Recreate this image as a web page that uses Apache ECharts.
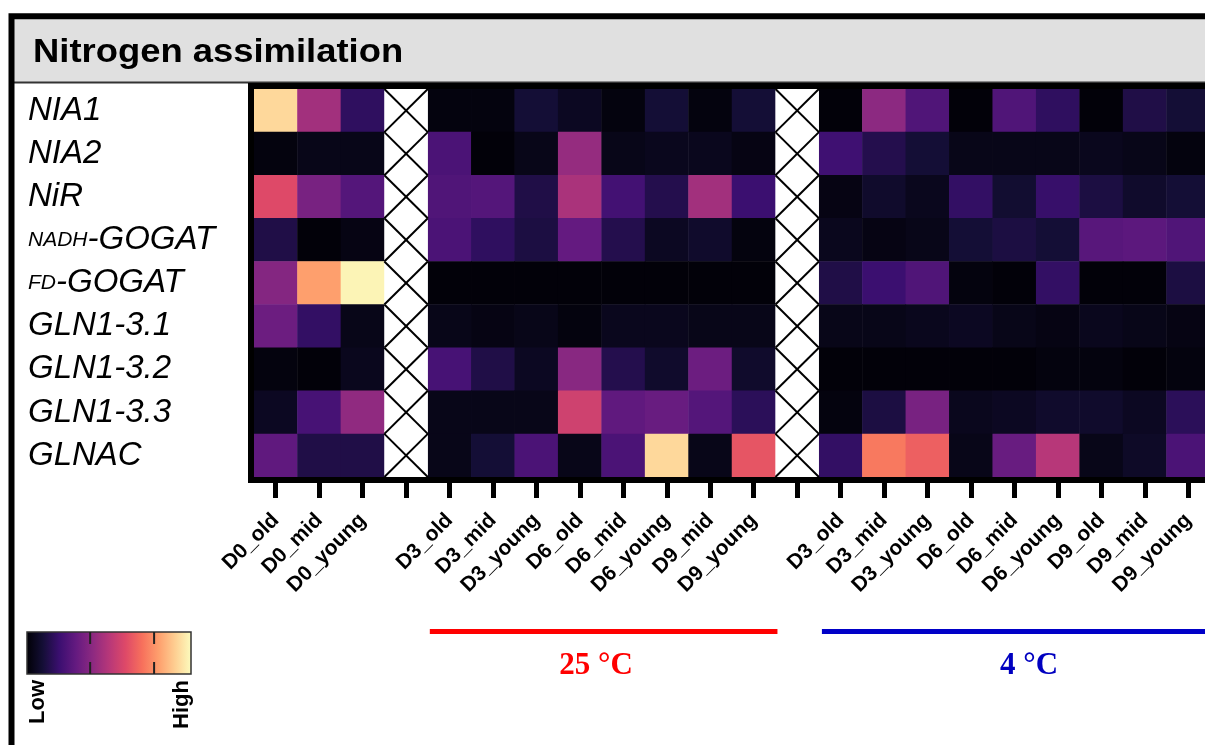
<!DOCTYPE html>
<html>
<head>
<meta charset="utf-8">
<title>Nitrogen assimilation</title>
<script src="https://cdn.jsdelivr.net/npm/echarts@6/dist/echarts.min.js"></script>
<style>
  html, body { margin: 0; padding: 0; background: #fff; overflow: hidden; }
  /* the figure runs past the right edge of the window, as in the source */
  #chart { width: 1260px; height: 745px; }
</style>
</head>
<body>
<div id="chart"></div>
<script>
// Rows (genes) and columns (samples)
const genes = ['NIA1', 'NIA2', 'NiR', 'NADH-GOGAT', 'FD-GOGAT', 'GLN1-3.1', 'GLN1-3.2', 'GLN1-3.3', 'GLNAC'];
const samplesD0 = ['D0_old', 'D0_mid', 'D0_young'];
const samples25 = ['D3_old', 'D3_mid', 'D3_young', 'D6_old', 'D6_mid', 'D6_young', 'D9_mid', 'D9_young'];
const samples4 = ['D3_old', 'D3_mid', 'D3_young', 'D6_old', 'D6_mid', 'D6_young', 'D9_old', 'D9_mid', 'D9_young'];

// Relative expression (0 = low, 1 = high): D0 (3) | 25 °C (8) | 4 °C (9)
const nia1 = [0.92, 0.45, 0.17, 0.02, 0.02, 0.10, 0.06, 0.02, 0.10, 0.02, 0.10, 0.01, 0.40, 0.25, 0.01, 0.25, 0.17, 0.01, 0.13, 0.10];
const nia2 = [0.02, 0.04, 0.04, 0.24, 0.01, 0.04, 0.42, 0.04, 0.05, 0.05, 0.03, 0.21, 0.14, 0.10, 0.04, 0.04, 0.04, 0.05, 0.04, 0.02];
const nir = [0.60, 0.35, 0.26, 0.25, 0.26, 0.13, 0.47, 0.22, 0.14, 0.45, 0.20, 0.03, 0.08, 0.05, 0.18, 0.09, 0.19, 0.12, 0.08, 0.10];
const nadhGogat = [0.13, 0.01, 0.03, 0.24, 0.17, 0.12, 0.30, 0.14, 0.06, 0.08, 0.02, 0.05, 0.03, 0.04, 0.10, 0.12, 0.10, 0.27, 0.28, 0.25];
const fdGogat = [0.38, 0.80, 0.98, 0.01, 0.01, 0.01, 0.01, 0.01, 0.01, 0.01, 0.01, 0.13, 0.20, 0.25, 0.02, 0.01, 0.18, 0.01, 0.01, 0.12];
const gln131 = [0.32, 0.18, 0.04, 0.04, 0.03, 0.04, 0.02, 0.05, 0.05, 0.04, 0.04, 0.04, 0.04, 0.05, 0.06, 0.04, 0.03, 0.05, 0.04, 0.03];
const gln132 = [0.02, 0.01, 0.05, 0.23, 0.13, 0.06, 0.39, 0.14, 0.08, 0.32, 0.08, 0.01, 0.01, 0.01, 0.01, 0.01, 0.02, 0.02, 0.01, 0.02];
const gln133 = [0.06, 0.23, 0.41, 0.04, 0.04, 0.04, 0.56, 0.29, 0.31, 0.26, 0.16, 0.02, 0.12, 0.35, 0.05, 0.06, 0.08, 0.08, 0.06, 0.16];
const glnac = [0.29, 0.13, 0.13, 0.04, 0.10, 0.24, 0.04, 0.24, 0.92, 0.04, 0.63, 0.18, 0.72, 0.66, 0.04, 0.31, 0.50, 0.04, 0.07, 0.24];
const expression = [nia1, nia2, nir, nadhGogat, fdGogat, gln131, gln132, gln133, glnac];

// magma colour map
const magma = ['#000004', '#140e36', '#3b0f70', '#641a80', '#8c2981', '#b73779',
  '#de4968', '#f7705c', '#fe9f6d', '#fecf92', '#fcfdbf'];
const colorbarTicks = [0.385, 0.775];

// x axis: D0 | gap | 25 °C | gap | 4 °C
const columns = [...samplesD0, '', ...samples25, '', ...samples4];
const gapCols = [samplesD0.length, samplesD0.length + 1 + samples25.length];

function colOf(i) {
  if (i < samplesD0.length) return i;
  if (i < samplesD0.length + samples25.length) return i + 1;
  return i + 2;
}

const heatData = [];
expression.forEach((row, r) => {
  row.forEach((v, i) => heatData.push([colOf(i), r, v]));
});
const gapData = [];
gapCols.forEach((c) => genes.forEach((g, r) => gapData.push([c, r])));

// Layout
const grid = { left: 254, top: 89, width: 956, height: 388 };
const cellW = grid.width / columns.length;
const font = 'Liberation Sans, Arial, Helvetica, sans-serif';

// white cell crossed out (no sample)
function renderGap(params, api) {
  const c = api.coord([api.value(0), api.value(1)]);
  const s = api.size([1, 1]);
  const l = c[0] - s[0] / 2, t = c[1] - s[1] / 2, r = l + s[0], b = t + s[1];
  return {
    type: 'group',
    children: [
      { type: 'rect', shape: { x: l, y: t, width: s[0], height: s[1] }, style: { fill: '#fff' } },
      { type: 'line', shape: { x1: l, y1: t, x2: r, y2: b }, style: { stroke: '#000', lineWidth: 2 } },
      { type: 'line', shape: { x1: r, y1: t, x2: l, y2: b }, style: { stroke: '#000', lineWidth: 2 } },
    ],
  };
}

const barX = 27, barY = 632, barW = 164, barH = 42;
const redStart = grid.left + 4 * cellW + 2;
const redEnd = grid.left + 12 * cellW + 2;
const blueStart = grid.left + 13 * cellW + 3;

const graphics = [
  // header
  { type: 'rect', z: 0, shape: { x: 14, y: 19, width: 1400, height: 63 }, style: { fill: '#e0e0e0' } },
  { type: 'line', z: 1, shape: { x1: 14, y1: 82.5, x2: 1400, y2: 82.5 }, style: { stroke: '#333', lineWidth: 2 } },
  { type: 'rect', z: 2, shape: { x: 11.5, y: 16.3, width: 1400, height: 800 }, style: { fill: 'none', stroke: '#000', lineWidth: 6 } },
  {
    type: 'text', z: 3, x: 33, y: 53, scaleX: 1.12,
    style: { text: 'Nitrogen assimilation', fontSize: 32.5, fontWeight: 'bold', fontFamily: font, fill: '#000', align: 'left', verticalAlign: 'middle' },
  },
  // heatmap frame
  {
    type: 'rect', z: 100,
    shape: { x: grid.left - 3, y: grid.top - 3, width: grid.width + 6, height: grid.height + 6 },
    style: { fill: 'none', stroke: '#000', lineWidth: 6 },
  },
  // colour bar
  {
    type: 'rect', z: 5,
    shape: { x: barX, y: barY, width: barW, height: barH },
    style: {
      fill: new echarts.graphic.LinearGradient(0, 0, 1, 0,
        magma.map((c, i) => ({ offset: i / (magma.length - 1), color: c }))),
      stroke: '#333', lineWidth: 1.5,
    },
  },
  ...colorbarTicks.flatMap((f) => [
    { type: 'line', z: 6, shape: { x1: barX + f * barW, y1: barY, x2: barX + f * barW, y2: barY + 12 }, style: { stroke: '#222', lineWidth: 2 } },
    { type: 'line', z: 6, shape: { x1: barX + f * barW, y1: barY + barH - 12, x2: barX + f * barW, y2: barY + barH }, style: { stroke: '#222', lineWidth: 2 } },
  ]),
  {
    type: 'text', z: 6, x: 27, y: 680, rotation: Math.PI / 2,
    style: { text: 'Low', fontSize: 22, fontWeight: 'bold', fontFamily: font, fill: '#000', align: 'right', verticalAlign: 'top' },
  },
  {
    type: 'text', z: 6, x: 171, y: 680, rotation: Math.PI / 2,
    style: { text: 'High', fontSize: 22, fontWeight: 'bold', fontFamily: font, fill: '#000', align: 'right', verticalAlign: 'top' },
  },
  // temperature groups
  { type: 'line', z: 5, shape: { x1: redStart, y1: 631.5, x2: redEnd, y2: 631.5 }, style: { stroke: '#ff0000', lineWidth: 5 } },
  { type: 'line', z: 5, shape: { x1: blueStart, y1: 631.5, x2: 1300, y2: 631.5 }, style: { stroke: '#0000c8', lineWidth: 5 } },
  {
    type: 'text', z: 5, x: 596, y: 666,
    style: { text: '25 °C', fontSize: 31, fontWeight: 'bold', fontFamily: 'Liberation Serif, Times New Roman, serif', fill: '#ff0000', align: 'center', verticalAlign: 'middle' },
  },
  {
    type: 'text', z: 5, x: 1029, y: 666,
    style: { text: '4 °C', fontSize: 31, fontWeight: 'bold', fontFamily: 'Liberation Serif, Times New Roman, serif', fill: '#0000c0', align: 'center', verticalAlign: 'middle' },
  },
];

const option = {
  animation: false,
  backgroundColor: '#fff',
  grid: grid,
  xAxis: {
    type: 'category',
    data: columns,
    axisLine: { show: false },
    axisTick: { show: true, alignWithLabel: true, interval: 0, length: 21, lineStyle: { color: '#000', width: 5 } },
    axisLabel: { interval: 0, rotate: 45, margin: 40, fontSize: 21, fontWeight: 'bold', fontFamily: font, color: '#000' },
    splitLine: { show: false },
  },
  yAxis: {
    type: 'category',
    data: genes,
    inverse: true,
    axisLine: { show: false },
    axisTick: { show: false },
    axisLabel: {
      align: 'left',
      margin: 226,
      fontSize: 33,
      fontStyle: 'italic',
      fontFamily: font,
      color: '#000',
      formatter: (v) => {
        const m = v.match(/^(NADH|FD)-(.*)$/);
        return m ? '{s|' + m[1] + '}-' + m[2] : v;
      },
      rich: {
        s: { fontSize: 21, fontStyle: 'italic', fontFamily: font, color: '#000', verticalAlign: 'middle' },
      },
    },
    splitLine: { show: false },
  },
  visualMap: {
    show: false,
    seriesIndex: 0,
    min: 0,
    max: 1,
    inRange: { color: magma },
  },
  graphic: graphics,
  series: [
    {
      type: 'heatmap',
      data: heatData,
      emphasis: { disabled: true },
    },
    {
      type: 'custom',
      data: gapData,
      renderItem: renderGap,
      encode: { x: 0, y: 1 },
      silent: true,
    },
  ],
};

const chart = echarts.init(document.getElementById('chart'));
chart.setOption(option);
</script>
</body>
</html>
